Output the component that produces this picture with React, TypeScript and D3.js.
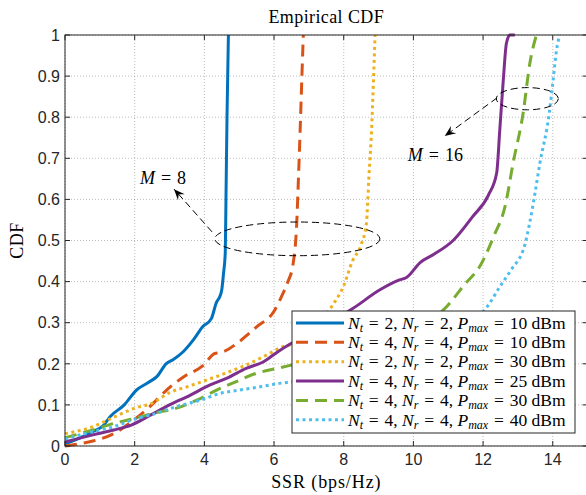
import React from 'react'
import * as d3 from 'd3'

// CDF curves (x: SSR in bps/Hz, y: CDF)
const blue: [number, number][] = [[0, 0.005], [0.3, 0.015], [0.8, 0.035], [1.1, 0.05], [1.3, 0.072], [1.7, 0.1], [2.05, 0.136], [2.4, 0.155], [2.65, 0.17], [2.9, 0.2], [3.1, 0.21], [3.4, 0.23], [3.7, 0.26], [3.95, 0.29], [4.2, 0.31], [4.35, 0.35], [4.45, 0.365], [4.5, 0.38], [4.55, 0.42], [4.6, 0.47], [4.62, 0.6], [4.65, 0.8], [4.69, 1]]
const orange: [number, number][] = [[0, 0], [0.4, 0.005], [0.8, 0.012], [1.4, 0.03], [2.0, 0.065], [2.45, 0.097], [2.9, 0.135], [3.4, 0.168], [3.95, 0.195], [4.3, 0.225], [4.5, 0.228], [5.0, 0.254], [5.5, 0.29], [6.0, 0.328], [6.25, 0.37], [6.4, 0.4], [6.55, 0.445], [6.65, 0.54], [6.7, 0.65], [6.75, 0.77], [6.8, 0.9], [6.84, 1]]
const yellow: [number, number][] = [[0, 0.03], [0.8, 0.047], [1.4, 0.07], [2, 0.092], [2.5, 0.104], [3, 0.13], [3.5, 0.144], [4.05, 0.16], [4.6, 0.177], [5.2, 0.197], [5.8, 0.222], [6.2, 0.24], [6.6, 0.25], [7.0, 0.27], [7.4, 0.31], [7.7, 0.345], [8.0, 0.39], [8.25, 0.45], [8.5, 0.49], [8.65, 0.54], [8.72, 0.65], [8.8, 0.77], [8.85, 0.88], [8.9, 1]]
const purple: [number, number][] = [[0, 0.01], [0.8, 0.027], [1.4, 0.039], [1.9, 0.051], [2.45, 0.075], [3, 0.1], [3.6, 0.124], [4.15, 0.148], [4.65, 0.165], [5.2, 0.189], [5.7, 0.205], [6.1, 0.229], [6.5, 0.25], [7.0, 0.272], [7.6, 0.3], [8.27, 0.335], [9.04, 0.38], [9.6, 0.404], [9.8, 0.41], [10.2, 0.447], [10.6, 0.467], [11.14, 0.5], [11.7, 0.558], [12.15, 0.61], [12.39, 0.664], [12.48, 0.77], [12.58, 0.89], [12.67, 0.98], [12.77, 1], [12.91, 1]]
const green: [number, number][] = [[0, 0.02], [0.8, 0.039], [1.4, 0.055], [2, 0.067], [2.5, 0.079], [3.2, 0.092], [3.8, 0.112], [4.35, 0.136], [4.9, 0.156], [5.5, 0.177], [6.1, 0.189], [6.4, 0.195], [7.5, 0.22], [9, 0.255], [10.2, 0.295], [10.86, 0.331], [11.5, 0.396], [11.9, 0.436], [12.3, 0.509], [12.65, 0.59], [12.86, 0.688], [13.15, 0.81], [13.34, 0.93], [13.53, 1]]
const cyan: [number, number][] = [[0, 0.017], [0.8, 0.035], [1.4, 0.047], [2.05, 0.067], [2.6, 0.079], [3.2, 0.096], [3.9, 0.112], [4.45, 0.128], [5, 0.136], [5.6, 0.144], [6.2, 0.153], [6.5, 0.156], [8, 0.18], [10, 0.22], [11.3, 0.27], [11.8, 0.31], [12.1, 0.337], [12.5, 0.39], [12.8, 0.428], [13.2, 0.49], [13.44, 0.59], [13.63, 0.688], [13.9, 0.81], [14.01, 0.89], [14.11, 0.964], [14.2, 1]]

const seriesData = [blue, orange, yellow, purple, green, cyan]
const seriesColors = ['#0072BD', '#D95319', '#EDB120', '#7E2F8E', '#77AC30', '#4DBEEE']
const seriesDash = ['none', '12,7', '3,3.5', 'none', '12,7', '3,3.5']
const legendNt = ['2', '4', '2', '4', '4', '4']
const legendNr = ['2', '4', '2', '4', '4', '4']
const legendP = ['10', '10', '30', '25', '30', '40']

const xTicks = [0, 2, 4, 6, 8, 10, 12, 14]
const yTicks = [0, 0.1, 0.2, 0.3, 0.4, 0.5, 0.6, 0.7, 0.8, 0.9, 1]

// annotations in data units
const ellipses = [
  { cx: 6.67, cy: 0.504, rx: 2.37, ry: 0.041 },
  { cx: 13.27, cy: 0.845, rx: 0.89, ry: 0.027 },
]
const arrows = [
  { x1: 4.22, y1: 0.521, x2: 3.13, y2: 0.625 },
  { x1: 12.4, y1: 0.847, x2: 10.9, y2: 0.754 },
]
const labels = [
  { x: 2.15, y: 0.654, value: '8' },
  { x: 9.84, y: 0.708, value: '16' },
]

const W = 586
const H = 495
const margin = { left: 65, top: 35 }
const plotW = 15 * 34.84
const plotH = 411

const serif = '"Liberation Serif", "Times New Roman", serif'
const sans = '"Liberation Sans", Arial, sans-serif'
const eq = '\u2004=\u2004'

export default function App() {
  const x = d3.scaleLinear().domain([0, 15]).range([margin.left, margin.left + plotW])
  const y = d3.scaleLinear().domain([0, 1]).range([margin.top + plotH, margin.top])
  const line = d3.line<[number, number]>().x(d => x(d[0])).y(d => y(d[1])).curve(d3.curveMonotoneX)

  const x0 = x(0), x1 = x(15), y0 = y(0), y1 = y(1)
  const axisColor = '#262626'

  const arrowHead = (a: typeof arrows[0]) => {
    const ax = x(a.x2), ay = y(a.y2)
    const ang = Math.atan2(ay - y(a.y1), ax - x(a.x1))
    const len = 11, half = 4.5, back = 7
    const cos = Math.cos(ang), sin = Math.sin(ang)
    const pt = (l: number, w: number) => [ax - l * cos - w * sin, ay - l * sin + w * cos]
    const p1 = pt(len, half), p2 = pt(back, 0), p3 = pt(len, -half)
    return `M${ax},${ay}L${p1[0]},${p1[1]}L${p2[0]},${p2[1]}L${p3[0]},${p3[1]}Z`
  }

  const legX = 292, legY = 311, legW = 283, legH = 122
  const rowH = 19.35

  return (
    <svg width={W} height={H} style={{ position: 'absolute', left: 0, top: 0, background: '#fff' }}>
      {/* grid */}
      {xTicks.map(t => (
        <line key={'gx' + t} x1={x(t)} x2={x(t)} y1={y0} y2={y1} stroke="#262626" strokeOpacity={0.3} strokeDasharray="1,2" />
      ))}
      {yTicks.map(t => (
        <line key={'gy' + t} x1={x0} x2={x1} y1={y(t)} y2={y(t)} stroke="#262626" strokeOpacity={0.3} strokeDasharray="1,2" />
      ))}

      {/* curves */}
      <g fill="none" strokeLinejoin="round">
        {seriesData.map((d, i) => (
          <path key={i} d={line(d) || ''} stroke={seriesColors[i]} strokeWidth={3} strokeDasharray={seriesDash[i]} />
        ))}
      </g>

      {/* annotations */}
      <g fill="none" stroke="#000" strokeWidth={1} strokeDasharray="7,4">
        {ellipses.map((e, i) => (
          <ellipse key={i} cx={x(e.cx)} cy={y(e.cy)} rx={x(e.rx) - x(0)} ry={y(0) - y(e.ry)} />
        ))}
        {arrows.map((a, i) => (
          <line key={i} x1={x(a.x1)} y1={y(a.y1)} x2={x(a.x2)} y2={y(a.y2)} />
        ))}
      </g>
      {arrows.map((a, i) => (
        <path key={'ah' + i} d={arrowHead(a)} fill="#000" />
      ))}
      {labels.map((l, i) => (
        <text key={i} x={x(l.x)} y={y(l.y)} dy="0.35em" fontFamily={serif} fontSize={18}>
          <tspan fontStyle="italic">M</tspan>
          <tspan>{eq}{l.value}</tspan>
        </text>
      ))}

      {/* axes box */}
      <rect x={x0} y={y1} width={x1 - x0} height={y0 - y1} fill="none" stroke={axisColor} strokeWidth={1} />
      {xTicks.map(t => (
        <g key={'tx' + t}>
          <line x1={x(t)} x2={x(t)} y1={y0} y2={y0 - 5} stroke={axisColor} />
          <line x1={x(t)} x2={x(t)} y1={y1} y2={y1 + 5} stroke={axisColor} />
          <text x={x(t)} y={y0 + 19} textAnchor="middle" fontFamily={sans} fontSize={16} fill={axisColor}>{t}</text>
        </g>
      ))}
      {yTicks.map(t => (
        <g key={'ty' + t}>
          <line x1={x0} x2={x0 + 5} y1={y(t)} y2={y(t)} stroke={axisColor} />
          <line x1={x1} x2={x1 - 5} y1={y(t)} y2={y(t)} stroke={axisColor} />
          <text x={x0 - 5} y={y(t)} dy="0.36em" textAnchor="end" fontFamily={sans} fontSize={16} fill={axisColor}>{d3.format('~g')(t)}</text>
        </g>
      ))}

      {/* titles */}
      <text x={(x0 + x1) / 2} y={23} textAnchor="middle" fontFamily={serif} fontSize={18} letterSpacing={0.4}>Empirical CDF</text>
      <text x={(x0 + x1) / 2} y={488} textAnchor="middle" fontFamily={serif} fontSize={18} letterSpacing={0.9}>SSR (bps/Hz)</text>
      <text transform={`translate(23,${(y0 + y1) / 2}) rotate(-90)`} textAnchor="middle" fontFamily={serif} fontSize={18} letterSpacing={0.5}>CDF</text>

      {/* legend */}
      <rect x={legX} y={legY} width={legW} height={legH} fill="#fff" stroke={axisColor} strokeWidth={1} />
      {seriesColors.map((c, i) => {
        const cy = legY + 12 + i * rowH
        return (
          <g key={'lg' + i}>
            <line x1={legX + 4} x2={legX + 52} y1={cy} y2={cy} stroke={c} strokeWidth={3} strokeDasharray={seriesDash[i]} />
            <text x={legX + 56} y={cy} dy="0.33em" fontFamily={serif} fontSize={17.5}>
              <tspan fontStyle="italic">N</tspan>
              <tspan fontStyle="italic" fontSize={12} dy={3}>t</tspan>
              <tspan dy={-3}>{eq}{legendNt[i]}, </tspan>
              <tspan fontStyle="italic">N</tspan>
              <tspan fontStyle="italic" fontSize={12} dy={3}>r</tspan>
              <tspan dy={-3}>{eq}{legendNr[i]}, </tspan>
              <tspan fontStyle="italic">P</tspan>
              <tspan fontStyle="italic" fontSize={12} dy={3}>max</tspan>
              <tspan dy={-3}>{eq}{legendP[i]} dBm</tspan>
            </text>
          </g>
        )
      })}
    </svg>
  )
}
